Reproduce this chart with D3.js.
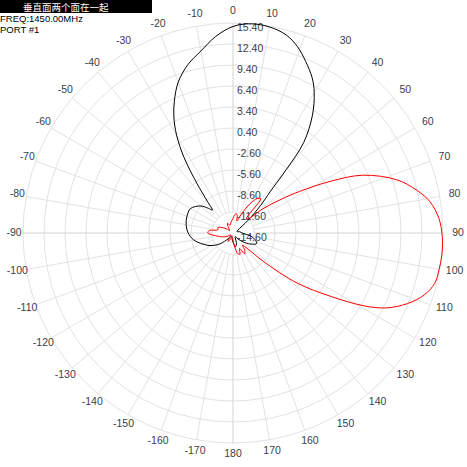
<!DOCTYPE html>
<html>
<head>
<meta charset="utf-8">
<script src="https://cdn.jsdelivr.net/npm/d3@7"></script>
<style>
  body { margin: 0; background: #fff; }
  svg text { font-family: "Liberation Sans", Arial, sans-serif; }
</style>
</head>
<body>
<div id="chart"></div>
<script>
// radial ticks (dB) and angle ticks (deg)
var radialTicks = [-14.6, -11.6, -8.6, -5.6, -2.6, 0.4, 3.4, 6.4, 9.4, 12.4, 15.4];
var angleTicks = d3.range(-170, 181, 10);

// black pattern
var blackAngle = [-180,-170,-160,-150,-140,-130,-120,-110,-100,-90,-80,-70,-60,-50,-45,-42,-39,-36,-33,-30,-27,-24,-20,-15,-10,-5,0,5,10,15,19,23,27,30,34,38,40,42,45,50,60,70,80,90,100,108,114,120,130,140,150,160,165,170,175];
var blackGain = [-13.3,-13.8,-14.2,-14.0,-13.5,-12.2,-11.0,-10.0,-8.9,-8.2,-7.8,-7.6,-7.6,-8.6,-9.6,-10.2,-8.8,-5.8,-1.8,1.5,4.0,6.0,8.3,10.3,11.8,13.6,14.9,15.4,15.3,14.7,13.6,12.0,10.3,8.6,5.7,1.8,-2.7,-6.7,-9.0,-11.8,-13.8,-14.0,-13.6,-13.3,-12.0,-11.2,-10.9,-11.4,-12.5,-13.5,-14.0,-13.2,-12.8,-12.6,-12.9];

// red pattern
var redAngle = [-180,-170,-160,-150,-140,-130,-120,-110,-100,-90,-84,-78,-70,-60,-50,-40,-30,-20,-10,0,5,10,14,18,24,30,35,39,43,47,51,55,58,62,66,72,77,81,86,91,96,100,104,108,112,116,119,123,128,133,137,142,146,151,157,162,167,173];
var redGain = [-13.6,-14.0,-13.8,-13.2,-13.8,-14.2,-13.6,-13.0,-12.2,-11.0,-11.2,-12.4,-12.3,-13.2,-14.0,-13.6,-13.0,-13.4,-13.0,-12.5,-12.0,-11.8,-12.1,-12.8,-11.6,-9.8,-8.6,-8.3,-11.8,-11.6,-9.1,-6.2,-3.4,1.1,5.7,10.0,12.4,13.9,14.9,15.3,15.4,15.3,15.1,14.1,12.3,9.8,6.9,2.0,-3.0,-8.6,-11.5,-12.4,-11.6,-11.2,-12.2,-11.4,-11.6,-12.6];

var width = 467, height = 467;
var cx = 233, cy = 233, R = 210;

var svg = d3.select("#chart")
  .append("svg")
  .attr("width", width)
  .attr("height", height);

var rScale = d3.scaleLinear()
  .domain([radialTicks[0], radialTicks[radialTicks.length - 1]])
  .range([0, R])
  .clamp(true);

var rad = d => d * Math.PI / 180;

var g = svg.append("g")
  .attr("transform", `translate(${cx}, ${cy})`);

// rings
g.selectAll(".ring")
  .data(radialTicks.slice(1))
  .enter()
  .append("circle")
  .attr("r", d => rScale(d))
  .attr("fill", "none")
  .attr("stroke", "#e2e2e2")
  .attr("stroke-width", 1);

// spokes, starting at the first ring
g.selectAll(".spoke")
  .data(angleTicks)
  .enter()
  .append("line")
  .attr("x1", d => rScale(radialTicks[1]) * Math.sin(rad(d)))
  .attr("y1", d => -rScale(radialTicks[1]) * Math.cos(rad(d)))
  .attr("x2", d => R * Math.sin(rad(d)))
  .attr("y2", d => -R * Math.cos(rad(d)))
  .attr("stroke", d => d % 90 === 0 ? "#d4d4d4" : "#e2e2e2")
  .attr("stroke-width", 1);

// angle labels
g.selectAll(".alabel")
  .data(angleTicks)
  .enter()
  .append("text")
  .attr("x", d => 222 * Math.sin(rad(d)) + 3 * Math.abs(Math.sin(rad(d))))
  .attr("y", d => -1.5 - 221.5 * Math.cos(rad(d)))
  .attr("text-anchor", "middle")
  .attr("dominant-baseline", "central")
  .attr("font-size", "10.5px")
  .attr("fill", "#3a3d48")
  .text(d => d);

// radial labels
g.selectAll(".rlabel")
  .data(radialTicks)
  .enter()
  .append("text")
  .attr("x", 4)
  .attr("y", d => -rScale(d) + 4)
  .attr("dominant-baseline", "central")
  .attr("font-size", "10.5px")
  .attr("fill", "#3a3d48")
  .text(d => d.toFixed(2));

// patterns
var line = d3.lineRadial()
  .angle(d => rad(d[0]))
  .radius(d => rScale(d[1]))
  .curve(d3.curveCatmullRomClosed.alpha(0.5));

g.append("path")
  .datum(blackAngle.map((a, i) => [a, blackGain[i]]))
  .attr("d", line)
  .attr("fill", "none")
  .attr("stroke", "#000")
  .attr("stroke-width", 1);

g.append("path")
  .datum(redAngle.map((a, i) => [a, redGain[i]]))
  .attr("d", line)
  .attr("fill", "none")
  .attr("stroke", "#ff0000")
  .attr("stroke-width", 1);

// header
svg.append("rect")
  .attr("x", 0)
  .attr("y", 0)
  .attr("width", 152)
  .attr("height", 13)
  .attr("fill", "#000");

svg.append("text")
  .attr("x", 23)
  .attr("y", 11)
  .attr("font-size", "9.5px")
  .attr("fill", "#fff")
  .style("font-family", "'Noto Sans CJK SC', sans-serif")
  .text("垂直面两个面在一起");

svg.append("text")
  .attr("x", 0)
  .attr("y", 22)
  .attr("font-size", "9.5px")
  .attr("fill", "#000")
  .text("FREQ:1450.00MHz");

svg.append("text")
  .attr("x", 0)
  .attr("y", 33)
  .attr("font-size", "9.5px")
  .attr("fill", "#000")
  .text("PORT #1");
</script>
</body>
</html>
